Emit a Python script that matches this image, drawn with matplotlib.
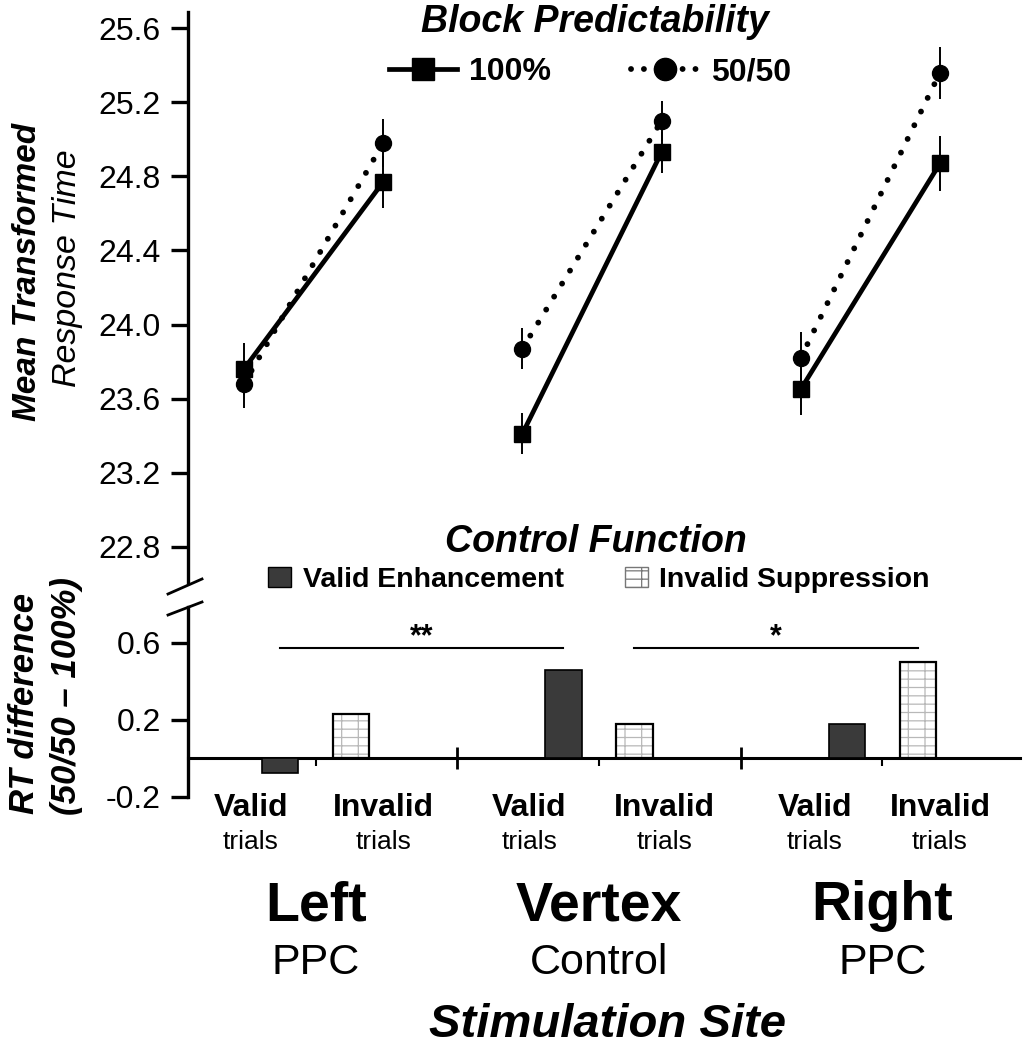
import numpy as np
import matplotlib
matplotlib.use('Agg')
import matplotlib.pyplot as plt
from matplotlib.lines import Line2D
from matplotlib.patches import Patch
from matplotlib.ticker import FormatStrFormatter
from matplotlib.transforms import blended_transform_factory

plt.rcParams['font.family'] = ['Liberation Sans', 'DejaVu Sans']
plt.rcParams['axes.unicode_minus'] = False
plt.rcParams['hatch.linewidth'] = 0.9

# categories
sites = ['Left', 'Vertex', 'Right']
site_sub = ['PPC', 'Control', 'PPC']
trial_types = ['Valid', 'Invalid', 'Valid', 'Invalid', 'Valid', 'Invalid']

# mean transformed RT, (valid, invalid) per site
rt_100 = [23.76, 24.77, 23.41, 24.93, 23.65, 24.87]
rt_5050 = [23.68, 24.98, 23.87, 25.10, 23.82, 25.36]
err_100 = [0.14, 0.14, 0.11, 0.11, 0.14, 0.15]
err_5050 = [0.13, 0.13, 0.11, 0.11, 0.14, 0.14]

# RT difference (50/50 - 100%)
diff_vals = [-0.075, 0.23, 0.46, 0.18, 0.18, 0.50]
diff_kind = ['valid', 'invalid', 'valid', 'invalid', 'valid', 'invalid']
sig_pairs = [(0, 2), (3, 5)]
sig_labels = ['**', '*']
sig_y = 0.572

# layout (data x units: top plot points sit on 0..5)
x_pts = np.arange(6)
group_c = np.array([0.515, 2.55, 4.585])
bar_x = np.ravel([[c - 0.255, c + 0.255] for c in group_c])
label_x = [0.05, 1.0, 2.05, 3.02, 4.1, 5.0]
xlim = (-0.402, 5.575)

W, H = 1024, 1050
fig = plt.figure(figsize=(W / 100, H / 100), dpi=100)
ax_top = fig.add_axes([188 / W, 1 - 583 / H, 832 / W, (583 - 12) / H])
ax_bot = fig.add_axes([188 / W, 1 - 797 / H, 832 / W, (797 - 607) / H])

# --- top: mean RT lines
rt_100 = np.array(rt_100)
rt_5050 = np.array(rt_5050)
dot_style = (0, (0.01, 2.6))
for i in range(3):
    sl = slice(2 * i, 2 * i + 2)
    ax_top.plot(x_pts[sl], rt_5050[sl], color='black', lw=4.2, ls=dot_style,
                dash_capstyle='round', marker='o', ms=11.5, zorder=3)
    ax_top.plot(x_pts[sl], rt_100[sl], color='black', lw=3.4, marker='s',
                ms=11, zorder=4)
ax_top.errorbar(x_pts, rt_100, yerr=err_100, fmt='none', ecolor='black',
                elinewidth=1.4, capsize=0, zorder=2)
ax_top.errorbar(x_pts, rt_5050, yerr=err_5050, fmt='none', ecolor='black',
                elinewidth=1.4, capsize=0, zorder=2)

ax_top.set_xlim(*xlim)
ax_top.set_ylim(22.604, 25.688)
ax_top.set_yticks(np.arange(22.8, 25.61, 0.4))
ax_top.yaxis.set_major_formatter(FormatStrFormatter('%.1f'))
ax_top.set_xticks([])
for s in ['top', 'right', 'bottom']:
    ax_top.spines[s].set_visible(False)
ax_top.spines['left'].set_linewidth(2.4)
ax_top.tick_params(axis='y', length=12.5, width=2.4, pad=7, labelsize=23)

# top legend
handles = [Line2D([], [], color='black', lw=3.4, marker='s', ms=16),
           Line2D([], [], color='black', lw=4.2, ls=(0, (0.01, 2.2)),
                  dash_capstyle='round', marker='o', ms=16)]
fig.text(0.581, 0.9695, 'Block Predictability', ha='center', va='baseline',
         fontsize=27, fontweight='bold', style='italic')
fig.legend(handles, ['100%', '50/50'], loc='center',
           bbox_to_anchor=(0.576, 0.9314), ncol=2, frameon=False,
           borderpad=0, handlelength=2.13, handletextpad=0.37,
           columnspacing=2.5, prop={'size': 23, 'weight': 'bold'})

# --- bottom: RT difference bars
for x, v, k in zip(bar_x, diff_vals, diff_kind):
    if k == 'valid':
        ax_bot.bar(x, v, width=0.26, color='#3a3a3a', edgecolor='black',
                   lw=1.2, zorder=3)
    else:
        ax_bot.bar(x, v, width=0.26, color='white', edgecolor='#b8b8b8',
                   hatch='+-', lw=0, zorder=3)
        ax_bot.bar(x, v, width=0.26, fill=False, edgecolor='black',
                   lw=1.6, zorder=4)

for (a, b), lab in zip(sig_pairs, sig_labels):
    ax_bot.plot([bar_x[a], bar_x[b]], [sig_y, sig_y], color='black', lw=1.5)
    ax_bot.text((bar_x[a] + bar_x[b]) / 2, sig_y + 0.015, lab, ha='center',
                va='baseline', fontsize=22, fontweight='bold')

ax_bot.set_xlim(*xlim)
ax_bot.set_ylim(-0.2, 0.787)
ax_bot.set_yticks([-0.2, 0.2, 0.6])
ax_bot.yaxis.set_major_formatter(FormatStrFormatter('%.1f'))
for s in ['top', 'right']:
    ax_bot.spines[s].set_visible(False)
ax_bot.spines['left'].set_linewidth(2.4)
ax_bot.spines['bottom'].set_position(('data', 0))
ax_bot.spines['bottom'].set_linewidth(2.2)
ax_bot.set_xticks([1.53, 3.57])
ax_bot.set_xticks(group_c, minor=True)
ax_bot.tick_params(axis='x', which='major', direction='inout', length=16,
                   width=2, labelbottom=False)
ax_bot.tick_params(axis='x', which='minor', direction='out', length=6,
                   width=1.5, labelbottom=False)
ax_bot.tick_params(axis='y', length=12.5, width=2.4, pad=7, labelsize=23)

# bottom legend
fig.text(0.582, 0.4743, 'Control Function', ha='center', va='baseline',
         fontsize=27, fontweight='bold', style='italic')
patches = [Patch(facecolor='#3a3a3a', edgecolor='black', lw=1),
           Patch(facecolor='white', edgecolor='#777777', hatch='+-', lw=1)]
fig.legend(patches, ['Valid Enhancement', 'Invalid Suppression'],
           loc='center', bbox_to_anchor=(0.585, 0.4476), ncol=2,
           frameon=False, borderpad=0, handlelength=0.8, handleheight=0.67,
           handletextpad=0.42, columnspacing=2.14,
           prop={'size': 20.5, 'weight': 'bold'})

# category labels under the axis
trans = blended_transform_factory(ax_bot.transData, fig.transFigure)
for x, t in zip(label_x, trial_types):
    ax_bot.text(x, 0.2229, t, transform=trans, ha='center', va='baseline',
                fontsize=23, fontweight='bold')
    ax_bot.text(x, 0.1914, 'trials', transform=trans, ha='center',
                va='baseline', fontsize=19)
for c, s, sub in zip(group_c, sites, site_sub):
    ax_bot.text(c, 0.1238, s, transform=trans, ha='center', va='baseline',
                fontsize=40, fontweight='bold')
    ax_bot.text(c, 0.0724, sub, transform=trans, ha='center', va='baseline',
                fontsize=31)
fig.text(0.593, 0.0124, 'Stimulation Site', ha='center', va='baseline',
         fontsize=34, fontweight='bold', style='italic')

# y labels
fig.text(0.0264, 1 - 272 / H, 'Mean Transformed', rotation=90, ha='center',
         va='center', fontsize=24, fontweight='bold', style='italic')
fig.text(0.0664, 1 - 268 / H, 'Response Time', rotation=90, ha='center',
         va='center', fontsize=24.5, style='italic')
fig.text(0.0244, 1 - 703 / H, 'RT difference', rotation=90, ha='center',
         va='center', fontsize=25, fontweight='bold', style='italic')
fig.text(0.0645, 1 - 696 / H, '(50/50 \u2013 100%)', rotation=90,
         ha='center', va='center', fontsize=25, fontweight='bold',
         style='italic')

# axis break marks
for y0, y1 in [(594, 579), (615, 602)]:
    fig.add_artist(Line2D([168 / W, 202 / W], [1 - y0 / H, 1 - y1 / H],
                          color='black', lw=2))

fig.savefig('out.png', dpi=100)
